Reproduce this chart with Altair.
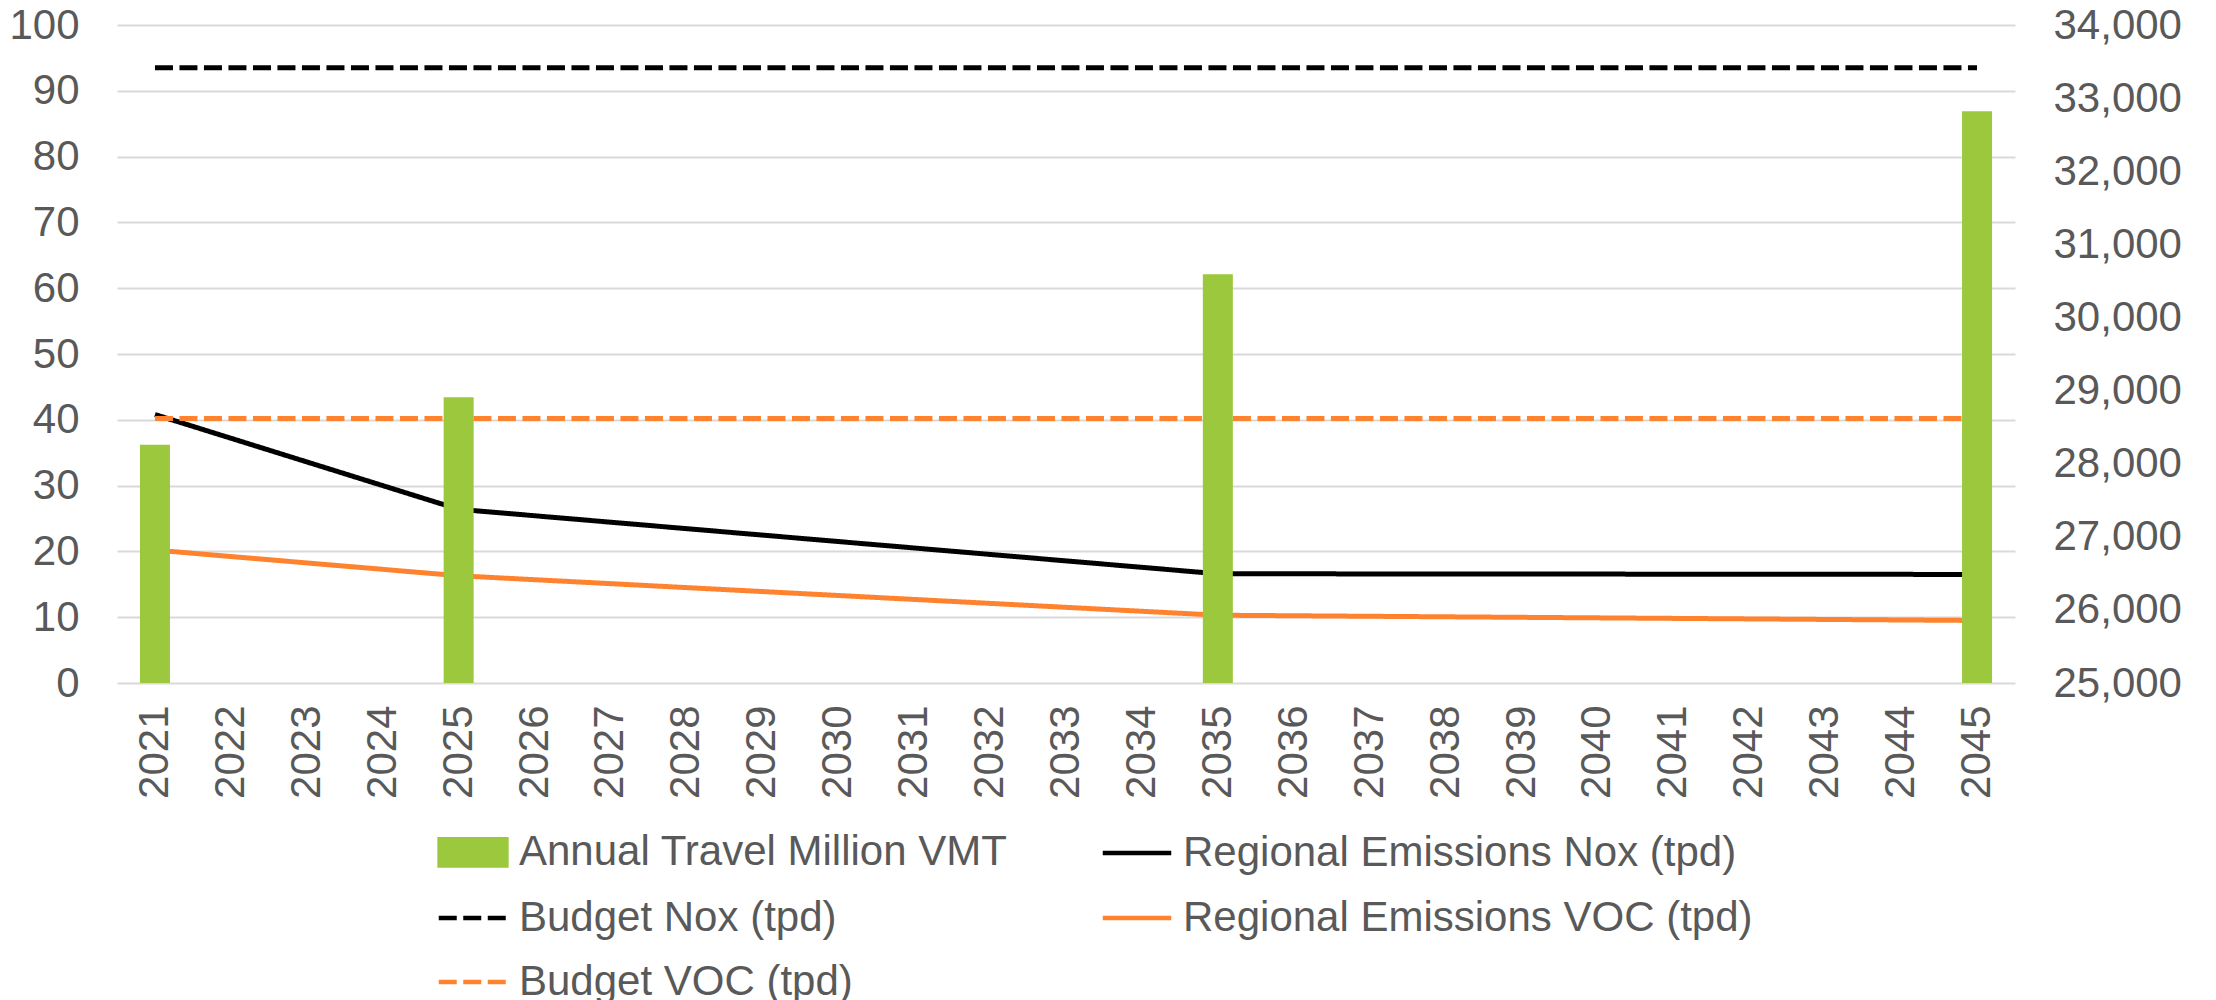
import altair as alt
import pandas as pd

# ---- data ----
years = [str(y) for y in range(2021, 2046)]
vmt_years = ["2021", "2025", "2035", "2045"]
vmt_values = [28260, 28910, 30590, 32820]          # right axis
emis_years = ["2021", "2025", "2035", "2045"]
nox_values = [40.8, 26.4, 16.6, 16.5]               # left axis
voc_values = [20.2, 16.3, 10.3, 9.5]
budget_years = ["2021", "2045"]
budget_nox = [93.5, 93.5]
budget_voc = [40.2, 40.2]

series_names = [
    "Annual Travel Million VMT",
    "Regional Emissions Nox (tpd)",
    "Budget Nox (tpd)",
    "Regional Emissions VOC (tpd)",
    "Budget VOC (tpd)",
]
series_colors = ["#9BC83D", "#000000", "#000000", "#FF832F", "#FF832F"]
series_dash = [[1, 0], [1, 0], [18, 6.5], [1, 0], [18, 6.5]]
series_shapes = [
    "M-1.95,-0.77H1.95V0.77H-1.95Z",
    "M-2,0H2",
    "M-2,0H2",
    "M-2,0H2",
    "M-2,0H2",
]

bar_df = pd.DataFrame({"year": vmt_years, "value": vmt_values,
                       "series": series_names[0]})
line_rows = []
for y, v in zip(emis_years, nox_values):
    line_rows.append({"year": y, "value": v, "series": series_names[1]})
for y, v in zip(budget_years, budget_nox):
    line_rows.append({"year": y, "value": v, "series": series_names[2]})
for y, v in zip(emis_years, voc_values):
    line_rows.append({"year": y, "value": v, "series": series_names[3]})
for y, v in zip(budget_years, budget_voc):
    line_rows.append({"year": y, "value": v, "series": series_names[4]})
line_df = pd.DataFrame(line_rows)
legend_df = pd.DataFrame({"series": series_names})

FONT = "Liberation Sans"
TXT = "#595959"

fill_scale = alt.Scale(domain=series_names, range=series_colors)
stroke_scale = alt.Scale(domain=series_names, range=series_colors)
dash_scale = alt.Scale(domain=series_names, range=series_dash)
shape_scale = alt.Scale(domain=series_names, range=series_shapes)

leg = alt.Legend(
    title=None, orient="none", legendX=335, legendY=806, columns=2,
    direction="horizontal",
    labelFont=FONT, labelFontSize=42, labelColor=TXT, labelLimit=1200,
    labelOffset=25, symbolSize=1173, symbolStrokeWidth=4.5, symbolOpacity=1,
    rowPadding=22, columnPadding=85, padding=0,
)

x_enc = alt.X("year:O", scale=alt.Scale(domain=years, paddingInner=0, paddingOuter=0),
              axis=alt.Axis(title=None, labelAngle=270, labelFont=FONT, labelFontSize=42,
                            labelColor=TXT, ticks=False, domain=False, labelPadding=22,
                            grid=False))

bars = alt.Chart(bar_df).mark_bar(width=30).encode(
    x=x_enc,
    y=alt.Y("value:Q",
            scale=alt.Scale(domain=[25000, 34000], nice=False, zero=False, clamp=True),
            axis=alt.Axis(orient="right", values=list(range(25000, 34001, 1000)),
                          format=",.0f",
                          grid=False, title=None, ticks=False, domain=False, labelPadding=38,
                          labelFont=FONT, labelFontSize=42, labelColor=TXT)),
    fill=alt.Fill("series:N", scale=fill_scale, legend=leg),
)

lines = alt.Chart(line_df).mark_line(strokeWidth=5).encode(
    x=x_enc,
    y=alt.Y("value:Q",
            scale=alt.Scale(domain=[0, 100], nice=False),
            axis=alt.Axis(orient="left", values=list(range(0, 101, 10)), grid=True,
                          gridColor="#D9D9D9", gridWidth=2, ticks=False, domain=False,
                          labelPadding=38, title=None, labelFont=FONT, labelFontSize=42,
                          labelColor=TXT)),
    stroke=alt.Stroke("series:N", scale=stroke_scale, legend=leg),
    strokeDash=alt.StrokeDash("series:N", scale=dash_scale, legend=leg),
)

legend_layer = alt.Chart(legend_df).mark_point(opacity=1, filled=True).encode(
    fill=alt.Fill("series:N", scale=fill_scale, legend=leg),
    stroke=alt.Stroke("series:N", scale=stroke_scale, legend=leg),
    shape=alt.Shape("series:N", scale=shape_scale, legend=leg),
    strokeDash=alt.StrokeDash("series:N", scale=dash_scale, legend=leg),
).transform_filter("false")

chart = alt.layer(lines, bars, legend_layer).resolve_scale(y="independent").properties(
    width=1898, height=658,
    autosize=alt.AutoSizeParams(type="none"),
    padding={"left": 109, "top": 17, "right": 193, "bottom": 350},
    background="white",
).configure_view(stroke=None)

chart.save("out.html", embed_options={"renderer": "svg", "actions": False})
